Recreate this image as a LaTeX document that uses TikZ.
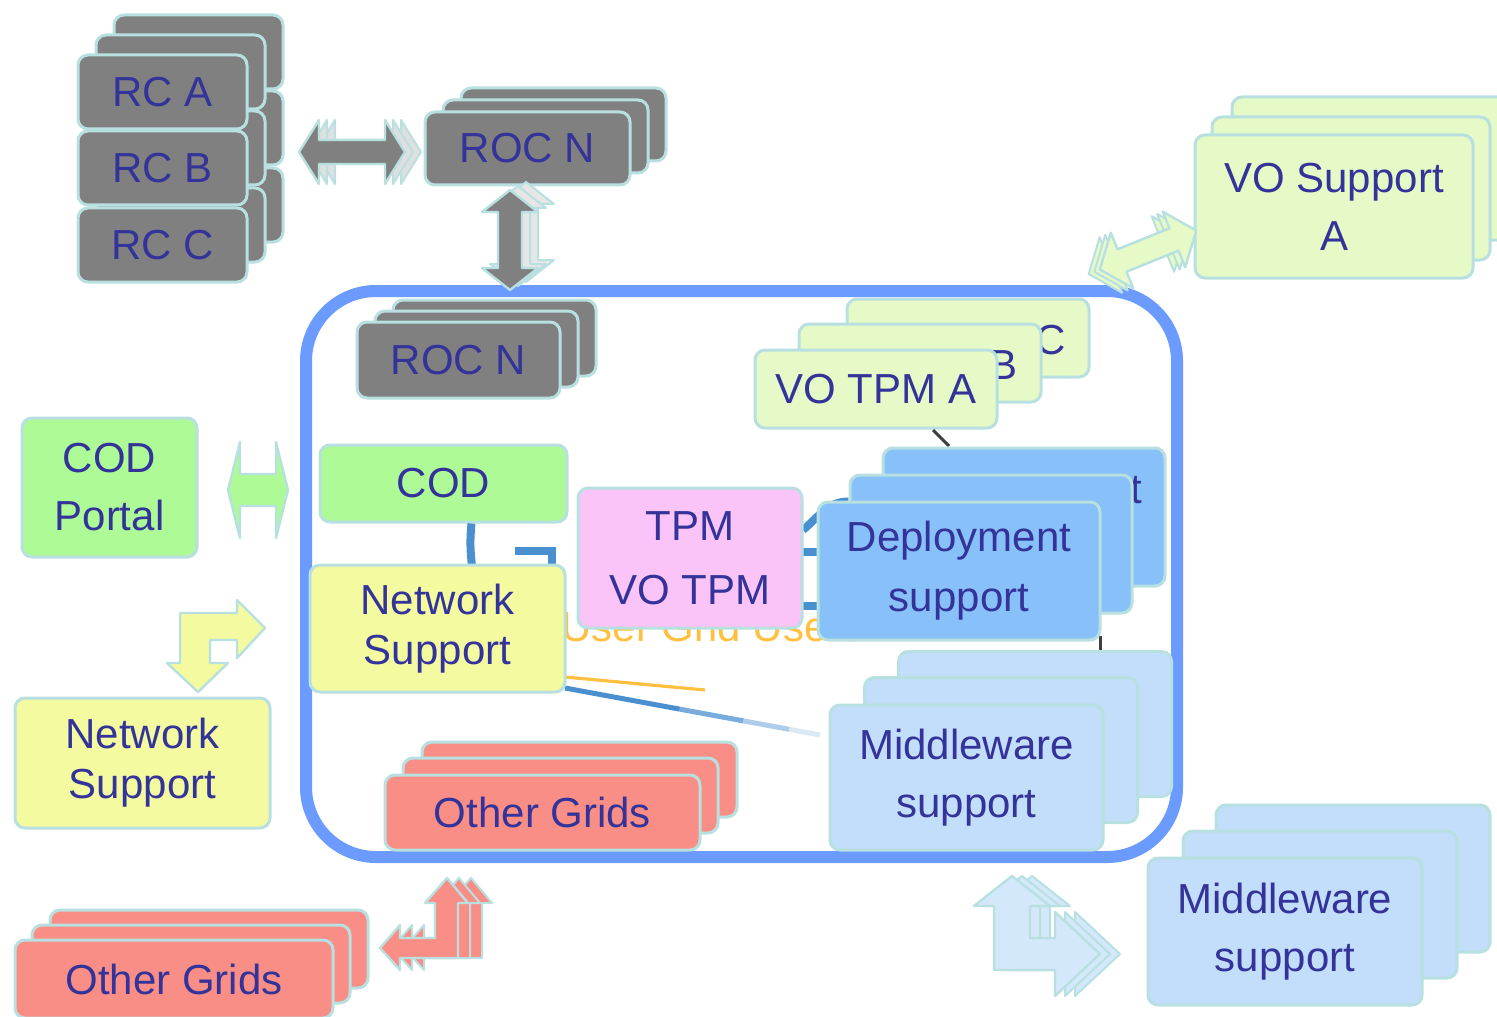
\documentclass[tikz,border=0pt]{standalone}
\usepackage{fontspec}
\setmainfont{Liberation Sans}
\usetikzlibrary{calc}
\definecolor{txt}{HTML}{333399}
\definecolor{edge}{HTML}{B9E0E0}
\definecolor{gry}{HTML}{808080}
\definecolor{grn}{HTML}{ADFA96}
\definecolor{ylw}{HTML}{F3FAA0}
\definecolor{lgr}{HTML}{E5FAC6}
\definecolor{pnk}{HTML}{FAC4F8}
\definecolor{dep}{HTML}{88C1F9}
\definecolor{mdw}{HTML}{C2DEFA}
\definecolor{sal}{HTML}{F98E86}
\definecolor{frm}{HTML}{6B9BFF}
\definecolor{conn}{HTML}{4A90D0}
\definecolor{org}{HTML}{FFC040}
\definecolor{tick}{HTML}{404040}
\tikzset{
  box/.style={draw=edge, line width=1.5pt, rounded corners=5pt, text=txt, align=center,
    font=\fontsize{21}{29}\selectfont, inner sep=0pt},
  sz/.style 2 args={minimum width=#1*0.5pt, minimum height=#2*0.5pt},
  frag/.style={text=txt, font=\fontsize{21}{29}\selectfont, inner sep=0pt},
  blk/.style={draw=edge, line width=1.2pt, line join=round},
  ghost/.style={draw=edge, line width=1pt, line join=round},
  cline/.style={draw=conn, line width=4pt},
  tk/.style={draw=tick, line width=1.5pt},
}
\begin{document}
\begin{tikzpicture}[x=0.5pt,y=-0.5pt]
\useasboundingbox (0,0) rectangle (1497,1016);
\fill[white] (0,0) rectangle (1497,1016);

% ---------------- big frame
\node[draw=frm, line width=6pt, rounded corners=35pt, sz={871}{566}, inner sep=0pt] (grid) at (741.5,574) {};

% ---------------- RC stack
\foreach \n/\cy in {a/92,b/168,c/245}{
  \node[box, fill=gry, sz={169}{74}] (rc\n3) at (198.5,\cy-40) {};}
\foreach \n/\cy in {a/92,b/168,c/245}{
  \node[box, fill=gry, sz={169}{74}] (rc\n2) at (180.5,\cy-20) {};}
\node[box, fill=gry, sz={169}{74}] (rca) at (162.5,92) {RC A};
\node[box, fill=gry, sz={169}{74}] (rcb) at (162.5,168) {RC B};
\node[box, fill=gry, sz={169}{74}] (rcc) at (162.5,245) {RC C};

% ---------------- ROC N (top)
\node[box, fill=gry, sz={205}{73}] (roct3) at (563.5,124.5) {};
\node[box, fill=gry, sz={205}{73}] (roct2) at (545.5,136.5) {};
\node[box, fill=gry, sz={205}{73}] (roct) at (527.5,148.5) {ROC N};

% RC <-> ROC arrow
\begin{scope}[shift={(352,152)}]
  \foreach \s in {16,8}{
    \path[ghost, fill=gry!25, xshift=\s*0.5pt] (-53,0) -- (-33,-32) -- (-33,-12) -- (33,-12) -- (33,-32) -- (53,0) -- (33,32) -- (33,12) -- (-33,12) -- (-33,32) -- cycle;}
  \path[blk, fill=gry] (-53,0) -- (-33,-32) -- (-33,-12) -- (33,-12) -- (33,-32) -- (53,0) -- (33,32) -- (33,12) -- (-33,12) -- (-33,32) -- cycle;
\end{scope}

% ROC <-> grid arrow
\begin{scope}[shift={(510,240)}]
  \foreach \s in {16,8}{
    \path[ghost, fill=gry!20, xshift=\s*0.5pt, yshift=\s*0.25pt] (0,-50) -- (28,-28) -- (12,-28) -- (12,28) -- (28,28) -- (0,50) -- (-28,28) -- (-12,28) -- (-12,-28) -- (-28,-28) -- cycle;}
  \path[blk, fill=gry] (0,-50) -- (28,-28) -- (12,-28) -- (12,28) -- (28,28) -- (0,50) -- (-28,28) -- (-12,28) -- (-12,-28) -- (-28,-28) -- cycle;
\end{scope}

% ---------------- VO Support A (outside)
\node[box, fill=lgr, sz={278}{143}] (vos3) at (1371,168.5) {};
\node[box, fill=lgr, sz={278}{143}] (vos2) at (1351,188.5) {};
\node[box, fill=lgr, sz={278}{143}] (vos) at (1334,206.5) {VO Support\\A};

\begin{scope}[shift={(1148,250)}, rotate=22]
  \foreach \s in {12,6}{
    \path[ghost, fill=lgr, xshift=-\s*0.5pt] (-52,0) -- (-28,-30) -- (-28,-12) -- (28,-12) -- (28,-30) -- (52,0) -- (28,30) -- (28,12) -- (-28,12) -- (-28,30) -- cycle;}
  \path[blk, fill=lgr] (-52,0) -- (-28,-30) -- (-28,-12) -- (28,-12) -- (28,-30) -- (52,0) -- (28,30) -- (28,12) -- (-28,12) -- (-28,30) -- cycle;
\end{scope}

% ---------------- left outside nodes
\node[box, fill=grn, sz={175}{139}] (codp) at (109.5,487.5) {COD\\Portal};
\node[box, fill=ylw, sz={255}{130}, font=\fontsize{21}{25}\selectfont] (nsout) at (142.5,763) {Network\\Support};

\path[blk, fill=grn] (228,490) -- (240,442) -- (240,474) -- (276,474) -- (276,442) -- (288,490) -- (276,538) -- (276,506) -- (240,506) -- (240,538) -- cycle;

\path[blk, fill=ylw] (180,613) -- (237,613) -- (237,600) -- (265,628) -- (237,658) -- (237,640) -- (210,640) -- (210,663) -- (228,663) -- (198,692) -- (167,663) -- (180,663) -- cycle;

% Other Grids outside
\node[box, fill=sal, sz={318}{78}] (og3) at (209,949) {};
\node[box, fill=sal, sz={318}{78}] (og2) at (191,964) {};
\node[box, fill=sal, sz={318}{78}] (og) at (174,979) {Other Grids};

\foreach \s in {24,12}{
  \path[ghost, fill=sal, xshift=\s*0.5pt] (380,948) -- (400,925) -- (400,938) -- (435,938) -- (435,903) -- (425,903) -- (447,878) -- (468,903) -- (458,903) -- (458,958) -- (400,958) -- (400,970) -- cycle;}
\path[blk, fill=sal] (380,948) -- (400,925) -- (400,938) -- (435,938) -- (435,903) -- (425,903) -- (447,878) -- (468,903) -- (458,903) -- (458,958) -- (400,958) -- (400,970) -- cycle;

% Middleware outside
\node[box, fill=mdw, sz={274}{147}] (mwo3) at (1353,878.5) {};
\node[box, fill=mdw, sz={274}{147}] (mwo2) at (1320,904.5) {};
\node[box, fill=mdw, sz={274}{147}] (mwo) at (1285,931.5) {Middleware\\support};

\foreach \s in {20,10}{
  \path[ghost, fill=mdw!70, xshift=\s*0.5pt] (1012,876) -- (1050,906) -- (1030,906) -- (1030,938) -- (1055,938) -- (1055,912) -- (1100,954) -- (1055,996) -- (1055,970) -- (994,970) -- (994,906) -- (974,906) -- cycle;}
\path[blk, fill=mdw!70] (1012,876) -- (1050,906) -- (1030,906) -- (1030,938) -- (1055,938) -- (1055,912) -- (1100,954) -- (1055,996) -- (1055,970) -- (994,970) -- (994,906) -- (974,906) -- cycle;

% ---------------- inside the frame
\node[box, fill=gry, sz={203}{76}] (roci3) at (494.5,338) {};
\node[box, fill=gry, sz={203}{76}] (roci2) at (476.5,349) {};
\node[box, fill=gry, sz={203}{76}] (roci) at (458.5,360) {ROC N};

\node[box, fill=lgr, sz={242}{78}] (vtc) at (968,338) {};
\node[frag, anchor=east] (vtcl) at (1066,340) {C};
\node[box, fill=lgr, sz={242}{78}] (vtb) at (920,363) {};
\node[frag, anchor=east] (vtbl) at (1018,365) {B};
\node[box, fill=lgr, sz={242}{78}] (vta) at (876,389) {VO TPM A};

% hidden connector fragments
\coordinate (t1) at (933,430); \coordinate (t2) at (949,446);
\draw[tk] (t1) -- (t2);
\coordinate (t3) at (852,481); \coordinate (t4) at (870,481);
\draw[tk] (t3) -- (t4);
\coordinate (t5) at (1100,636); \coordinate (t6) at (1100,652);
\draw[tk] (t5) -- (t6);
\coordinate (t7) at (877,677); \coordinate (t8) at (898,677);
\draw[tk] (t7) -- (t8);

% orange text (mostly hidden)
\node[anchor=base, text=org, font=\fontsize{21}{25}\selectfont, inner sep=0pt] (ugu) at (712,641) {User Grid Users};

% lines from network support
\coordinate (o1) at (705,690);
\coordinate (b1) at (820,735);
\coordinate (ns1) at (565,677);
\coordinate (ns2) at (565,688);
\draw[org, line width=1.6pt] (ns1) -- (o1);
\draw[conn, line width=2.5pt] (ns2) -- ($(ns2)!0.45!(b1)$);
\draw[conn!75, line width=2.5pt] ($(ns2)!0.45!(b1)$) -- ($(ns2)!0.7!(b1)$);
\draw[conn!45, line width=2.5pt] ($(ns2)!0.7!(b1)$) -- ($(ns2)!0.88!(b1)$);
\draw[conn!20, line width=2.5pt] ($(ns2)!0.88!(b1)$) -- (b1);

\node[box, fill=grn, sz={247}{77}] (cod) at (443.5,483.5) {COD};

% deployment stack (back layers)
\node[box, fill=dep, sz={282}{138}] (dep3) at (1024,517) {};
\node[frag, anchor=east] (dep3l) at (1143,490) {t};
\node[box, fill=dep, sz={282}{138}] (dep2) at (991,544) {};

% blue connectors
\coordinate (e1) at (515,551);
\coordinate (e2) at (472,566);
\draw[cline] ([xshift=14pt]cod.south) to[bend right=6] (e2);
\draw[cline] (e1) -- (552,551) -- (552,566);
\draw[cline] (803,530) to[out=40,in=180] ([yshift=-14pt]dep2.north west);
\draw[cline] (802,552) -- (820,552);
\draw[cline] (802,606) -- (820,606);

\node[box, fill=ylw, sz={255}{127}, font=\fontsize{21}{25}\selectfont] (nsin) at (437.5,628.5) {Network\\Support};
\node[box, fill=pnk, sz={224}{140}, font=\fontsize{21}{32}\selectfont] (tpm) at (690,558) {TPM\\VO TPM};
\node[box, fill=dep, sz={282}{138}, font=\fontsize{21}{30}\selectfont] (depl) at (959,571) {Deployment\\support};

% middleware inside
\node[box, fill=mdw, sz={273}{145}] (mwi3) at (1035,724) {};
\node[box, fill=mdw, sz={273}{145}] (mwi2) at (1001,750) {};
\node[box, fill=mdw, sz={273}{145}] (mwi) at (966.5,777.5) {Middleware\\support};

% other grids inside
\node[box, fill=sal, sz={315}{75}] (ogi3) at (579.5,779.5) {};
\node[box, fill=sal, sz={315}{75}] (ogi2) at (560.5,795.5) {};
\node[box, fill=sal, sz={315}{75}] (ogi) at (542.5,812.5) {Other Grids};
\end{tikzpicture}
\end{document}
